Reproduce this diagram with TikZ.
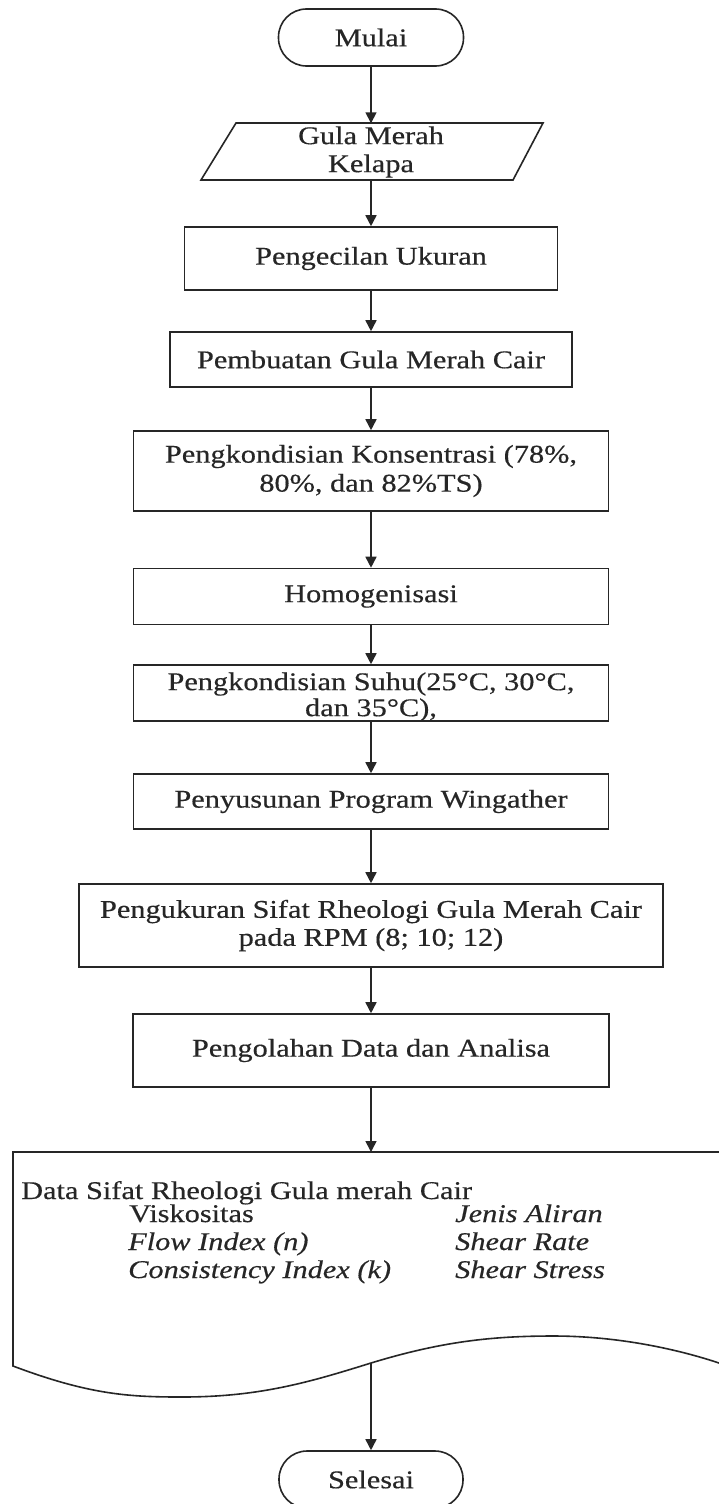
\documentclass[tikz,border=0pt]{standalone}
\usepackage{fontspec}
\setmainfont{Liberation Serif}[FakeStretch=1.19, FakeBold=0.4]
\usetikzlibrary{arrows.meta}
\begin{document}
\begin{tikzpicture}[x=1pt,y=-1pt,
  every node/.style={font=\fontsize{25.5}{28}\selectfont, text=black!85, inner sep=0pt},
  it/.style={font=\fontsize{25.5}{28}\selectfont\itshape},
  box/.style={draw=black!85, line width=1.6pt, rectangle, inner sep=0pt, align=center},
  term/.style={box, rounded corners=28pt},
  flow/.style={draw=black!85, line width=1.6pt, -{Triangle[length=11pt,width=11pt]}},
  outline/.style={draw=black!85, line width=1.6pt}
]
\clip (0,0) rectangle (719,1504);
\fill[white] (0,0) rectangle (719,1504);

\node[term, minimum width=185pt, minimum height=57pt] (mulai) at (371,37.5) {Mulai};

\draw[outline] (236,123) -- (543,123) -- (513,180) -- (201,180) -- cycle;
\node[align=center, minimum width=300pt, minimum height=57pt] (bahan) at (371,152) {Gula Merah\\Kelapa};

\node[box, minimum width=373pt, minimum height=63pt] (kecil) at (371,258.5) {Pengecilan Ukuran};
\node[box, minimum width=402pt, minimum height=55pt] (cair) at (371,359.5) {Pembuatan Gula Merah Cair};
\node[box, minimum width=475pt, minimum height=80pt, font=\fontsize{25.5}{29}\selectfont] (konsen) at (371,471) {Pengkondisian Konsentrasi (78\%,\\80\%, dan 82\%TS)};
\node[box, minimum width=475pt, minimum height=56pt] (homo) at (371,596.5) {Homogenisasi};
\node[box, minimum width=475pt, minimum height=56pt] (suhu) at (371,693) {};
\node[align=center, font=\fontsize{25.5}{26}\selectfont] (suhutext) at (371,697) {Pengkondisian Suhu(25°C, 30°C,\\dan 35°C),};
\node[box, minimum width=475pt, minimum height=55pt] (wing) at (371,801.5) {Penyusunan Program Wingather};
\node[box, minimum width=584pt, minimum height=83pt] (ukur) at (371,925.5) {Pengukuran Sifat Rheologi Gula Merah Cair\\pada RPM (8; 10; 12)};
\node[box, minimum width=476pt, minimum height=73pt] (olah) at (371,1050.5) {Pengolahan Data dan Analisa};

% document shape
\coordinate (doctop) at (371,1152);
\coordinate (docout) at (371,1363);
\draw[outline] (760,1152) -- (13,1152) -- (13,1366)
  .. controls (90,1395) and (130,1397) .. (182,1397)
  .. controls (260,1397) and (310,1382) .. (371,1363)
  .. controls (440,1342) and (490,1336) .. (553,1336)
  .. controls (620,1336) and (680,1350) .. (719,1363)
  -- (760,1380) -- cycle;

\node[anchor=base west] (d0) at (21,1199) {Data Sifat Rheologi Gula merah Cair};
\node[anchor=base west] (d1) at (129,1222) {Viskositas};
\node[anchor=base west, it] (d2) at (128,1250) {Flow Index (n)};
\node[anchor=base west, it] (d3) at (128,1278) {Consistency Index (k)};
\node[anchor=base west, it] (d4) at (455,1222) {Jenis Aliran};
\node[anchor=base west, it] (d5) at (455,1250) {Shear Rate};
\node[anchor=base west, it] (d6) at (455,1278) {Shear Stress};

\node[term, minimum width=184pt, minimum height=57pt] (selesai) at (371,1479.5) {Selesai};

\draw[flow] (mulai.south) -- (bahan.north);
\draw[flow] (bahan.south) -- (kecil.north);
\draw[flow] (kecil.south) -- (cair.north);
\draw[flow] (cair.south) -- (konsen.north);
\draw[flow] (konsen.south) -- (homo.north);
\draw[flow] (homo.south) -- (suhu.north);
\draw[flow] (suhu.south) -- (wing.north);
\draw[flow] (wing.south) -- (ukur.north);
\draw[flow] (ukur.south) -- (olah.north);
\draw[flow] (olah.south) -- (doctop);
\draw[flow] (docout) -- (selesai.north);
\end{tikzpicture}
\end{document}
